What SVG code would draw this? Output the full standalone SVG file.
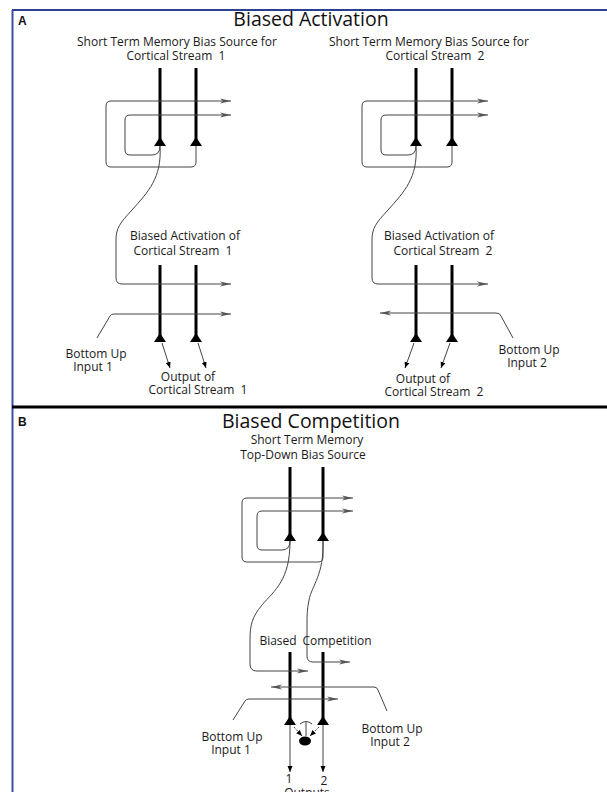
<svg xmlns="http://www.w3.org/2000/svg" width="607" height="792" viewBox="0 0 607 792">
<style>
.lbl{font-family:"Open Sans","Liberation Sans",sans-serif;font-size:12px;fill:#1a1a1a;text-anchor:middle}
.ttl{font-family:"Open Sans","Liberation Sans",sans-serif;font-size:19.5px;fill:#111;text-anchor:middle}
.pl{font-family:"Liberation Sans",Arial,sans-serif;font-size:12px;font-weight:bold;fill:#111}
.thick{stroke:#000;stroke-width:3;fill:none}
.thin{stroke:#444;stroke-width:1;fill:none}
.tri{fill:#000}
</style>
<defs>
<marker id="barb" markerWidth="12" markerHeight="8" refX="11" refY="4" orient="auto" markerUnits="userSpaceOnUse"><path d="M0,1.5 L11,4 L0,6.5 L3,4 z" fill="#555"/></marker>
<marker id="tip" markerWidth="7" markerHeight="6" refX="6" refY="3" orient="auto" markerUnits="userSpaceOnUse"><path d="M0,0.5 L6,3 L0,5.5 z" fill="#000"/></marker>
<path id="soma" d="M0,-9 L6,0 L-6,0 z"/>
</defs>
<rect width="607" height="792" fill="#fff"/>
<g id="frame">
<line x1="12" y1="10" x2="607" y2="10" stroke="#2b3e8f" stroke-width="2"/>
<line x1="12.5" y1="10" x2="12.5" y2="792" stroke="#3a4fa0" stroke-width="2"/>
<line x1="12" y1="407" x2="607" y2="407" stroke="#000" stroke-width="3"/>
</g>
<g id="panelA-title">
<text class="pl" x="18" y="25">A</text>
<text class="ttl" x="311" y="26">Biased Activation</text>
</g>
<g id="panelB-title">
<text class="pl" x="18" y="426">B</text>
<text class="ttl" x="311" y="428">Biased Competition</text>
</g>
<g id="stm1">
<text class="lbl" x="177" y="46">Short Term Memory Bias Source for</text>
<text class="lbl" x="176" y="60" xml:space="preserve">Cortical Stream  1</text>
<line class="thick" x1="160" y1="68" x2="160" y2="140"/>
<line class="thick" x1="196" y1="68" x2="196" y2="140"/>
<use href="#soma" x="160" y="146" class="tri"/>
<use href="#soma" x="196" y="146" class="tri"/>
</g>
<g id="stream1">
<text class="lbl" x="185" y="240">Biased Activation of</text>
<text class="lbl" x="183" y="255" xml:space="preserve">Cortical Stream  1</text>
<line class="thick" x1="160" y1="265" x2="160" y2="336"/>
<line class="thick" x1="196" y1="265" x2="196" y2="336"/>
<use href="#soma" x="160" y="342" class="tri"/>
<use href="#soma" x="196" y="342" class="tri"/>
<text class="lbl" x="96" y="358">Bottom Up</text>
<text class="lbl" x="93" y="371">Input 1</text>
<text class="lbl" x="188" y="381">Output of</text>
<text class="lbl" x="198" y="394" xml:space="preserve">Cortical Stream  1</text>
</g>
<g id="stm2">
<text class="lbl" x="429" y="46">Short Term Memory Bias Source for</text>
<text class="lbl" x="435" y="60" xml:space="preserve">Cortical Stream  2</text>
<line class="thick" x1="416" y1="68" x2="416" y2="140"/>
<line class="thick" x1="452" y1="68" x2="452" y2="140"/>
<use href="#soma" x="416" y="146" class="tri"/>
<use href="#soma" x="452" y="146" class="tri"/>
</g>
<g id="stream2">
<text class="lbl" x="439" y="240">Biased Activation of</text>
<text class="lbl" x="443" y="255" xml:space="preserve">Cortical Stream  2</text>
<line class="thick" x1="416" y1="265" x2="416" y2="336"/>
<line class="thick" x1="452" y1="265" x2="452" y2="336"/>
<use href="#soma" x="416" y="342" class="tri"/>
<use href="#soma" x="452" y="342" class="tri"/>
<text class="lbl" x="529" y="354">Bottom Up</text>
<text class="lbl" x="527" y="367">Input 2</text>
<text class="lbl" x="423" y="383">Output of</text>
<text class="lbl" x="434" y="396" xml:space="preserve">Cortical Stream  2</text>
</g>
<g id="stmB">
<text class="lbl" x="307" y="444">Short Term Memory</text>
<text class="lbl" x="303" y="459">Top-Down Bias Source</text>
<line class="thick" x1="290" y1="467" x2="290" y2="535"/>
<line class="thick" x1="323" y1="467" x2="323" y2="535"/>
<use href="#soma" x="290" y="541" class="tri"/>
<use href="#soma" x="323" y="541" class="tri"/>
</g>
<g id="competition">
<text class="lbl" x="278" y="645">Biased</text>
<text class="lbl" x="337" y="645">Competition</text>
<line class="thick" x1="290" y1="652" x2="290" y2="719"/>
<line class="thick" x1="323" y1="652" x2="323" y2="719"/>
<use href="#soma" x="290" y="725" class="tri"/>
<use href="#soma" x="323" y="725" class="tri"/>
<ellipse cx="305" cy="741" rx="6" ry="4.5" fill="#000"/>
<text class="lbl" x="232" y="741">Bottom Up</text>
<text class="lbl" x="231" y="754">Input 1</text>
<text class="lbl" x="392" y="733">Bottom Up</text>
<text class="lbl" x="390" y="746">Input 2</text>
<text class="lbl" x="289" y="783">1</text>
<text class="lbl" x="324" y="785">2</text>
<text class="lbl" x="307" y="797">Outputs</text>
</g>
<g id="connectors">
<path class="thin" marker-end="url(#barb)" d="M196,146 L196,162 Q196,167 191,167 L111,167 Q106,167 106,162 L106,106 Q106,101 111,101 L231,101"/>
<path class="thin" marker-end="url(#barb)" d="M160,146 Q160,155 152,155 L130,155 Q125,155 125,150 L125,120 Q125,115 130,115 L231,115"/>
<path class="thin" marker-end="url(#barb)" d="M160,146 C162,178 148,192 132,210 C120,223 116,228 116,240 L116,278 Q116,284 122,284 L231,284"/>
<path class="thin" marker-end="url(#barb)" d="M97,338 L110,316 Q111,314 114,314 L231,314"/>
<path class="thin" marker-end="url(#tip)" d="M162,343 L170,368"/>
<path class="thin" marker-end="url(#tip)" d="M198,343 L206,368"/>
<path class="thin" marker-end="url(#barb)" d="M452,146 L452,162 Q452,167 447,167 L367,167 Q362,167 362,162 L362,106 Q362,101 367,101 L488,101"/>
<path class="thin" marker-end="url(#barb)" d="M416,146 Q416,155 408,155 L386,155 Q381,155 381,150 L381,120 Q381,115 386,115 L488,115"/>
<path class="thin" marker-end="url(#barb)" d="M416,146 C418,178 404,192 388,210 C376,223 372,228 372,240 L372,278 Q372,284 378,284 L488,284"/>
<path class="thin" marker-end="url(#barb)" d="M513,338 L501,316 Q500,313 496,313 L380,313"/>
<path class="thin" marker-end="url(#tip)" d="M414,343 L405,368"/>
<path class="thin" marker-end="url(#tip)" d="M450,343 L441,368"/>
<path class="thin" marker-end="url(#barb)" d="M323,541 L323,557 Q323,562 318,562 L247,562 Q242,562 242,557 L242,503 Q242,498 247,498 L353,498"/>
<path class="thin" marker-end="url(#barb)" d="M290,541 Q290,550 282,550 L262,550 Q257,550 257,545 L257,516 Q257,511 262,511 L353,511"/>
<path class="thin" marker-end="url(#barb)" d="M290,541 C290,580 275,590 262,605 C252,617 250,625 250,640 L250,664 Q250,671 257,671 L308,671"/>
<path class="thin" marker-end="url(#barb)" d="M323,541 C324,575 312,585 309,600 C307,610 307,615 307,625 L307,656 Q307,662 313,662 L350,662"/>
<path class="thin" marker-end="url(#barb)" d="M387,711 L378,690 Q377,687 374,687 L271,687"/>
<path class="thin" marker-end="url(#barb)" d="M233,720 L245,701 Q246,699 249,699 L338,699"/>
<path class="thin" stroke-dasharray="2,1.5" marker-end="url(#tip)" d="M294,727 L302,736"/>
<path class="thin" stroke-dasharray="2,1.5" marker-end="url(#tip)" d="M319,727 L310,736"/>
<path class="thin" d="M306,736 L306,722 M300,724 Q306,719 312,724"/>
<path class="thin" marker-end="url(#tip)" d="M290,725 L290,772"/>
<path class="thin" marker-end="url(#tip)" d="M323,725 L323,772"/>
</g>
</svg>
